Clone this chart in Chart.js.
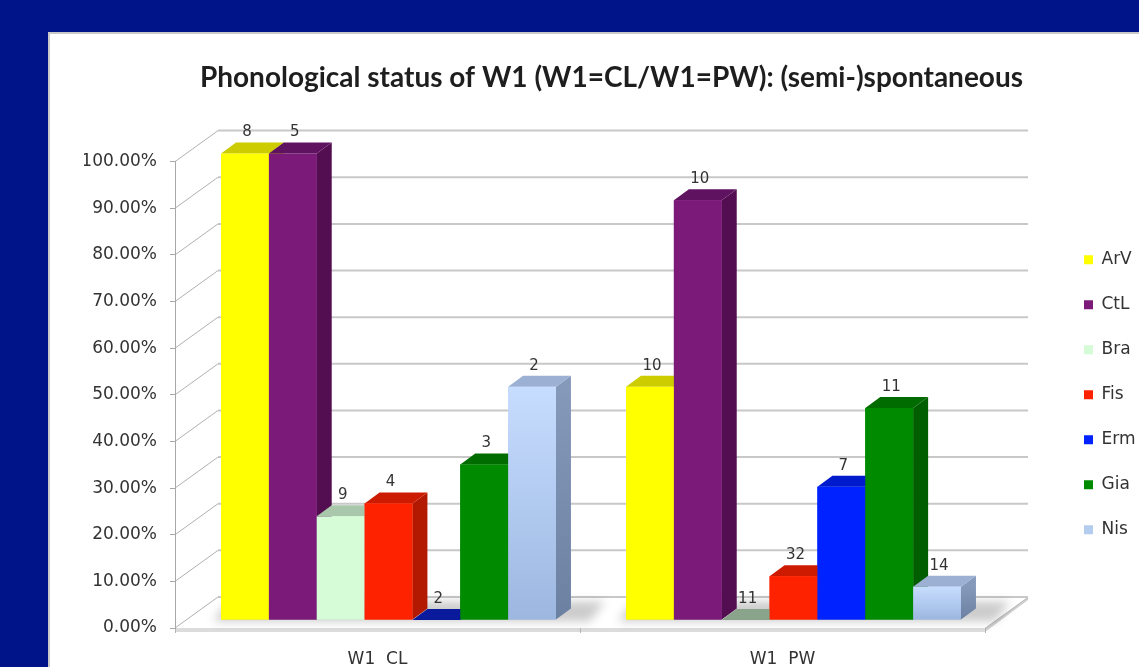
<!DOCTYPE html>
<html>
<head>
<meta charset="utf-8">
<script src="https://cdn.jsdelivr.net/npm/chart.js@4.4.1/dist/chart.umd.min.js"></script>
<style>
  html, body { margin: 0; padding: 0; }
  body { width: 1139px; height: 667px; background: #00148a; overflow: hidden; position: relative; }
  #panel { position: absolute; left: 48px; top: 32px; width: 1091px; height: 635px; background: #fff;
           box-shadow: inset 2px 2px 0 #c9c9c9; }
  #chart { position: absolute; left: 0; top: 0; }
</style>
</head>
<body>
<div id="panel"><canvas id="chart" width="1091" height="635"></canvas></div>
<script>
// ---- data ----
const titleText = 'Phonological status of W1 (W1=CL/W1=PW): (semi-)spontaneous';
const categories = ['W1  CL', 'W1  PW'];
const seriesNames = ['ArV', 'CtL', 'Bra', 'Fis', 'Erm', 'Gia', 'Nis'];

// percentage of items per speaker
const arvShare = [100, 50];
const ctlShare = [100, 90];
const braShare = [22.22, 0];
const fisShare = [25, 9.38];
const ermShare = [0, 28.57];
const giaShare = [33.33, 45.45];
const nisShare = [50, 7.14];

// number of items behind each percentage (printed above the bars)
const arvCount = [8, 10];
const ctlCount = [5, 10];
const braCount = [9, 11];
const fisCount = [4, 32];
const ermCount = [2, 7];
const giaCount = [3, 11];
const nisCount = [2, 14];

const yTickValues = [0, 10, 20, 30, 40, 50, 60, 70, 80, 90, 100];

// ---- styles ----
const swatchColors = ['#ffff00', '#7b1a78', '#d5fbd7', '#ff2200', '#0022ff', '#008a00', '#b4ccee'];
const frontTop     = ['#ffff00', '#7b1a78', '#d5fbd7', '#ff2200', '#0022ff', '#008a00', '#c7ddff'];
const frontBottom  = ['#ffff00', '#7b1a78', '#d5fbd7', '#ff2200', '#0022ff', '#008a00', '#9cb7e0'];
const topColors    = ['#cccc00', '#5f1260', '#a9c7ab', '#cc1b00', '#001bcc', '#006c00', '#9bb0d2'];
const sideColors   = ['#b0b000', '#530e52', '#8aa38b', '#b31800', '#0a1a9c', '#005e00', '#8599bb'];
const sideBottom   = ['#b0b000', '#530e52', '#8aa38b', '#b31800', '#0a1a9c', '#005e00', '#6c81a2'];

const FONT = "'DejaVu Sans', sans-serif";
const WALL_DX = 43, WALL_DY = -31;   // depth of the floor and side wall
const BAR_DX = 11, BAR_DY = -8;      // bars stand a little inside the floor
const BOX_DX = 15, BOX_DY = -11;     // depth of each bar

const shares = [arvShare, ctlShare, braShare, fisShare, ermShare, giaShare, nisShare];
const counts = [arvCount, ctlCount, braCount, fisCount, ermCount, giaCount, nisCount];

function poly(ctx, pts, fill) {
  ctx.beginPath();
  ctx.moveTo(pts[0][0], pts[0][1]);
  for (let i = 1; i < pts.length; i++) ctx.lineTo(pts[i][0], pts[i][1]);
  ctx.closePath();
  ctx.fillStyle = fill;
  ctx.fill();
}

const box3d = {
  id: 'box3d',
  beforeDraw(chart) {
    const { ctx, chartArea: a, scales: { y } } = chart;
    const y0 = y.getPixelForValue(0);
    ctx.save();
    // floor slab
    poly(ctx, [[a.left, y0], [a.right, y0], [a.right + WALL_DX, y0 + WALL_DY], [a.left + WALL_DX, y0 + WALL_DY]], '#ffffff');
    ctx.fillStyle = '#dcdcdc';
    ctx.fillRect(a.left, y0, a.right - a.left, 4);
    poly(ctx, [[a.right, y0], [a.right + WALL_DX, y0 + WALL_DY], [a.right + WALL_DX, y0 + WALL_DY + 3], [a.right, y0 + 4]], '#cfcfcf');
    ctx.strokeStyle = '#b9b9b9';
    ctx.lineWidth = 1;
    ctx.beginPath();
    ctx.moveTo(a.right, y0 + 0.5);
    ctx.lineTo(a.right + WALL_DX, y0 + WALL_DY + 0.5);
    ctx.stroke();
    // back wall grid and side wall diagonals
    y.ticks.forEach(t => {
      const py = y.getPixelForValue(t.value);
      ctx.strokeStyle = '#c8c8c8';
      ctx.lineWidth = 2;
      ctx.beginPath();
      ctx.moveTo(a.left + WALL_DX, py + WALL_DY);
      ctx.lineTo(a.right + WALL_DX, py + WALL_DY);
      ctx.stroke();
      ctx.strokeStyle = '#b0b0b0';
      ctx.lineWidth = 1;
      ctx.beginPath();
      ctx.moveTo(a.left, py);
      ctx.lineTo(a.left + WALL_DX, py + WALL_DY);
      ctx.stroke();
    });
    ctx.restore();
  },
  beforeDatasetsDraw(chart) {
    chart.ctx.save();
    chart.ctx.translate(BAR_DX, BAR_DY);
  },
  afterDatasetsDraw(chart) {
    const { ctx } = chart;
    const bars = [];
    chart.data.datasets.forEach((ds, di) => {
      const meta = chart.getDatasetMeta(di);
      meta.data.forEach((el, j) => {
        const p = el.getProps(['x', 'y', 'base', 'width'], true);
        bars.push({ di, j, left: p.x - p.width / 2, right: p.x + p.width / 2,
                    top: Math.min(p.y, p.base), base: p.base, n: ds.counts[j] });
      });
    });
    bars.sort((a, b) => a.left - b.left);

    // soft shadow on the floor behind every group
    categories.forEach((c, j) => {
      const g = bars.filter(b => b.j === j);
      const l = Math.min(...g.map(b => b.left)), r = Math.max(...g.map(b => b.right));
      const base = g[0].base;
      ctx.save();
      ctx.filter = 'blur(5px)';
      poly(ctx, [[l - 8, base + 2], [r + 34, base + 2], [r + 34 + BOX_DX, base + BOX_DY - 7], [l + BOX_DX - 8, base + BOX_DY - 7]], 'rgba(0,0,0,0.2)');
      ctx.restore();
    });

    bars.forEach(b => {
      const { di, left, right, top, base } = b;
      const h = base - top;
      if (h > 0.5) {
        const sg = ctx.createLinearGradient(0, top, 0, base);
        sg.addColorStop(0, sideColors[di]);
        sg.addColorStop(1, sideBottom[di]);
        poly(ctx, [[right, top], [right + BOX_DX, top + BOX_DY], [right + BOX_DX, base + BOX_DY], [right, base]], sg);
        poly(ctx, [[left, top], [left + BOX_DX, top + BOX_DY], [right + BOX_DX, top + BOX_DY], [right, top]], topColors[di]);
        const fg = ctx.createLinearGradient(0, top, 0, base);
        fg.addColorStop(0, frontTop[di]);
        fg.addColorStop(1, frontBottom[di]);
        ctx.fillStyle = fg;
        ctx.fillRect(left, top, right - left, h);
      } else {
        poly(ctx, [[left, base], [left + BOX_DX, base + BOX_DY], [right + BOX_DX, base + BOX_DY], [right, base]], sideColors[di]);
      }
    });

    ctx.fillStyle = '#333333';
    ctx.font = '15px ' + FONT;
    ctx.textAlign = 'center';
    ctx.textBaseline = 'middle';
    bars.forEach(b => {
      ctx.fillText(String(b.n), (b.left + b.right) / 2 + 2, b.top - 21);
    });
    ctx.restore();
  }
};

Chart.defaults.font.family = FONT;
Chart.defaults.color = '#333333';

new Chart(document.getElementById('chart'), {
  type: 'bar',
  data: {
    labels: categories,
    datasets: seriesNames.map((name, i) => ({
      label: name,
      data: shares[i],
      counts: counts[i],
      backgroundColor: swatchColors[i],
      borderWidth: 0
    }))
  },
  options: {
    responsive: false,
    animation: false,
    events: [],
    layout: { padding: { left: 36, right: 0, top: 0, bottom: 0 } },
    datasets: { bar: { barPercentage: 1, categoryPercentage: 0.827 } },
    plugins: {
      title: {
        display: true, text: titleText, color: '#1e1e1e',
        font: { family: 'Lato', size: 28, weight: 'bold', lineHeight: 1.2 },
        padding: { top: 29, bottom: 67 }
      },
      legend: {
        position: 'right', align: 'center', fullSize: false, maxWidth: 83,
        labels: { boxWidth: 9, boxHeight: 9, padding: 28, color: '#333333', font: { size: 17 } }
      },
      tooltip: { enabled: false }
    },
    scales: {
      x: {
        grid: { display: true, drawOnChartArea: false, drawTicks: true, tickLength: 5, color: '#b5b5b5', offset: true },
        border: { display: false },
        ticks: { padding: 16, color: '#333333', font: { size: 17 } },
        afterFit: s => { s.height = 39; }
      },
      y: {
        min: 0, max: 100,
        afterBuildTicks: s => { s.ticks = yTickValues.map(v => ({ value: v })); },
        ticks: { padding: 13, color: '#333333', font: { size: 17 }, callback: v => v.toFixed(2) + '%' },
        grid: { display: true, drawOnChartArea: false, tickLength: 5, color: '#a8a8a8' },
        border: { display: true, color: '#a8a8a8' },
        afterFit: s => { s.width = 91; }
      },
      gap: {
        type: 'linear', axis: 'y', position: 'right', display: true,
        ticks: { display: false }, grid: { display: false }, border: { display: false },
        afterFit: s => { s.width = 71; }
      }
    }
  },
  plugins: [box3d]
});
</script>
</body>
</html>
